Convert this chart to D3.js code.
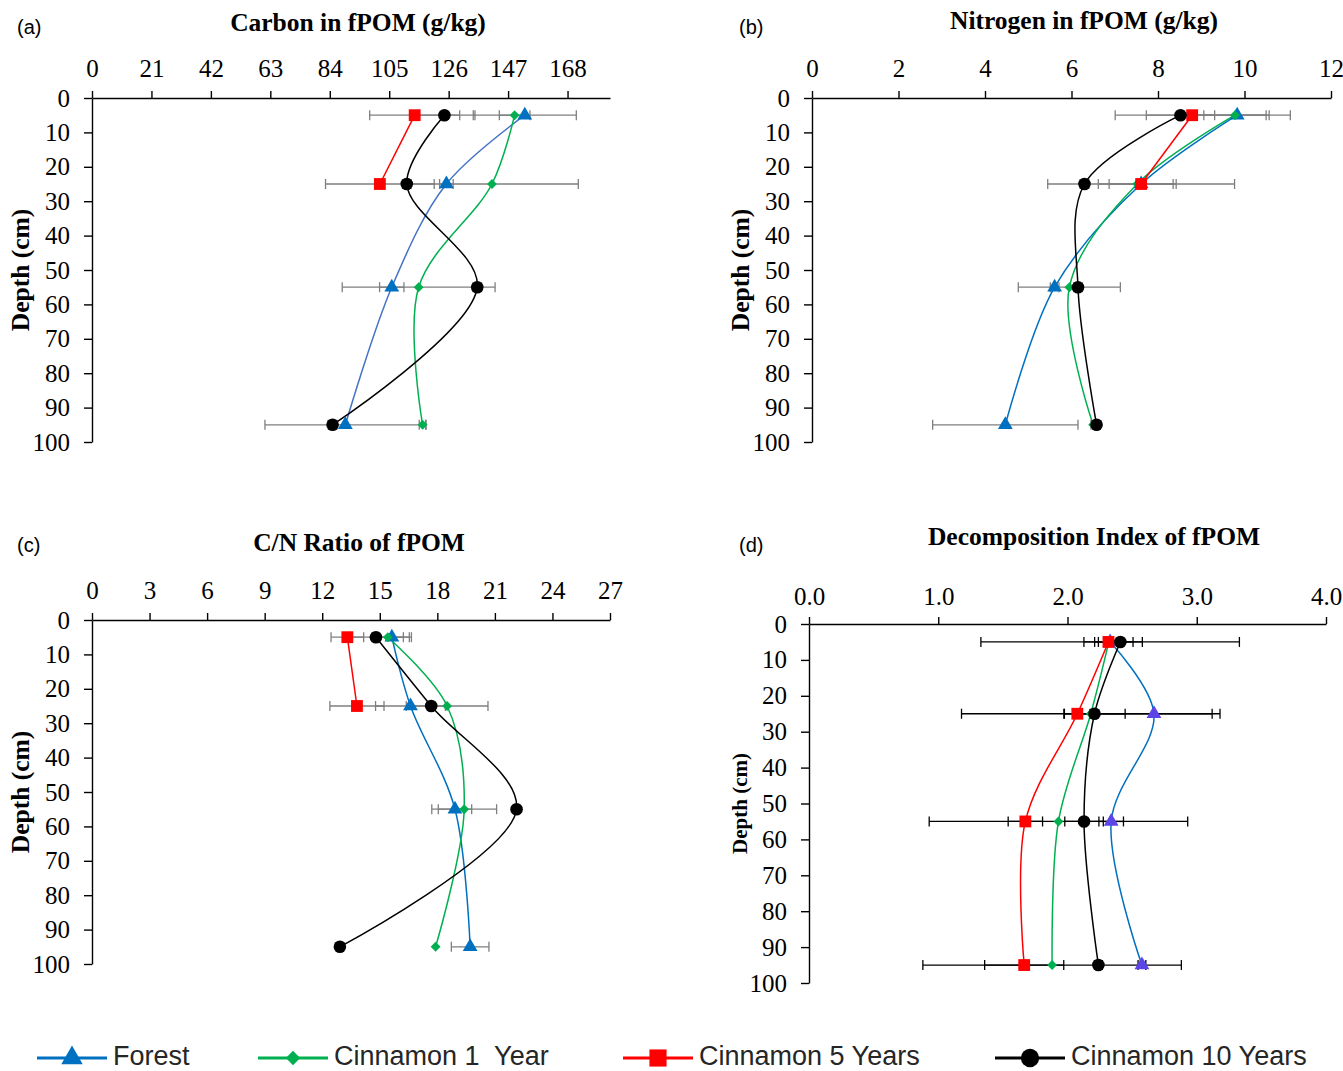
<!DOCTYPE html>
<html>
<head>
<meta charset="utf-8">
<script src="https://cdn.jsdelivr.net/npm/d3@7"></script>
<style>
  body { margin: 0; background: #fff; }
</style>
</head>
<body>
<div id="chart"></div>
<script>
// sampling depths (cm) and depth axis ticks
const depths = [5, 25, 55, 95];
const depthTicks = [0, 10, 20, 30, 40, 50, 60, 70, 80, 90, 100];
const seriesNames = ['Forest', 'Cinnamon 1  Year', 'Cinnamon 5 Years', 'Cinnamon 10 Years'];

// (a) carbon in fPOM (g/kg)
const carbonTicks = [0, 21, 42, 63, 84, 105, 126, 147, 168];
const carbonForest = [152.9, 125.2, 105.9, 89.5];
const carbonForestErr = [18.2, 2.4, 4.3, 28.4];
const carbonCin1 = [149.3, 141.3, 115.4, 116.8];
const carbonCin1Err = [5.4, 30.5, 27.0, 1.2];
const carbonCin5 = [114.0, 101.7, null, null];
const carbonCin5Err = [15.9, 19.2, null, null];
const carbonCin10 = [124.5, 111.2, 136.1, 85.0];
const carbonCin10Err = [10.8, 1.5, 1.5, 1.5];

// (b) nitrogen in fPOM (g/kg)
const nitroTicks = [0, 2, 4, 6, 8, 10, 12];
const nitroForest = [9.83, 7.61, 5.61, 4.47];
const nitroForestErr = [1.23, 0.74, 0.1, 1.68];
const nitroCin1 = [9.78, 7.52, 5.95, 6.50];
const nitroCin1Err = [0.72, 0.90, 1.18, 0.05];
const nitroCin5 = [8.79, 7.61, null, null];
const nitroCin5Err = [1.78, 2.16, null, null];
const nitroCin10 = [8.52, 6.30, 6.15, 6.58];
const nitroCin10Err = [0.79, 0.1, 0.1, 0.05];

// (c) C/N ratio of fPOM
const cnTicks = [0, 3, 6, 9, 12, 15, 18, 21, 24, 27];
const cnForest = [15.63, 16.60, 18.92, 19.71];
const cnForestErr = [1.02, 1.82, 0.87, 0.98];
const cnCin1 = [15.42, 18.51, 19.40, 17.91];
const cnCin1Err = [0.81, 2.13, 1.69, 0];
const cnCin5 = [13.31, 13.81, null, null];
const cnCin5Err = [0.85, 1.41, null, null];
const cnCin10 = [14.80, 17.68, 22.13, 12.92];
const cnCin10Err = [1.74, 0, 0, 0];

// (d) decomposition index of fPOM
const diTicks = [0, 1, 2, 3, 4];
const diForest = [2.33, 2.669, 2.338, 2.576];
const diForestErr = [1.0, 0.45, 0.095, 0.03];
const diCin1 = [2.32, 2.18, 1.93, 1.881];
const diCin1Err = [0.11, 1.0, 1.0, 1.0];
const diCin5 = [2.317, 2.076, 1.674, 1.665];
const diCin5Err = [0.19, 0.10, 0.133, 0.306];
const diCin10 = [2.409, 2.209, 2.128, 2.239];
const diCin10Err = [0.17, 0.237, 0.149, 0.03];

const W = 1343, H = 1071;
const serif = '"Liberation Serif", "Times New Roman", serif';
const sans = '"Liberation Sans", Arial, sans-serif';

const svg = d3.select('#chart')
  .append('svg')
  .attr('width', W)
  .attr('height', H);

const panels = [
  {
    tag: '(a)', title: 'Carbon in fPOM (g/kg)', ticks: carbonTicks, xMax: 183, fmt: d3.format('d'),
    left: 92, right: 610, top: 98, bottom: 442, titleX: 358, titleY: 31, tagX: 17, tagY: 34,
    yTitleX: 29, labelPad: 14, forestLine: '#4472C4', forestMarker: '#0070C0', errColor: '#7f7f7f',
    vals: [carbonForest, carbonCin1, carbonCin5, carbonCin10],
    errs: [carbonForestErr, carbonCin1Err, carbonCin5Err, carbonCin10Err]
  },
  {
    tag: '(b)', title: 'Nitrogen in fPOM (g/kg)', ticks: nitroTicks, xMax: 12, fmt: d3.format('d'),
    left: 812, right: 1331, top: 98, bottom: 442, titleX: 1084, titleY: 29, tagX: 739, tagY: 34,
    yTitleX: 749, labelPad: 14, forestLine: '#0070C0', forestMarker: '#0070C0', errColor: '#7f7f7f',
    vals: [nitroForest, nitroCin1, nitroCin5, nitroCin10],
    errs: [nitroForestErr, nitroCin1Err, nitroCin5Err, nitroCin10Err]
  },
  {
    tag: '(c)', title: 'C/N Ratio of fPOM', ticks: cnTicks, xMax: 27, fmt: d3.format('d'),
    left: 92, right: 610, top: 620, bottom: 964, titleX: 359, titleY: 551, tagX: 17, tagY: 552,
    yTitleX: 29, labelPad: 14, forestLine: '#0070C0', forestMarker: '#0070C0', errColor: '#7f7f7f',
    vals: [cnForest, cnCin1, cnCin5, cnCin10],
    errs: [cnForestErr, cnCin1Err, cnCin5Err, cnCin10Err]
  },
  {
    tag: '(d)', title: 'Decomposition Index of fPOM', ticks: diTicks, xMax: 4, fmt: d3.format('.1f'),
    left: 809, right: 1326, top: 624, bottom: 983, titleX: 1094, titleY: 545, tagX: 739, tagY: 552,
    yTitleX: 747, yTitleSize: 21, labelPad: 12, forestLine: '#0070C0', forestMarker: '#5b45e6', errColor: '#000000',
    vals: [diForest, diCin1, diCin5, diCin10],
    errs: [diForestErr, diCin1Err, diCin5Err, diCin10Err]
  }
];

const symbols = [d3.symbolTriangle, d3.symbolDiamond2, d3.symbolSquare, d3.symbolCircle];
const symbolSizes = [95, 62, 140, 125];
const seriesColors = ['#0070C0', '#00B050', '#FF0000', '#000000'];

function styleAxis(g, size) {
  g.select('.domain').attr('stroke', '#000').attr('stroke-width', 1.4);
  g.selectAll('.tick line').attr('stroke', '#000').attr('stroke-width', 1.4);
  g.selectAll('.tick text')
    .attr('fill', '#000')
    .attr('font-family', serif)
    .attr('font-size', size);
}

panels.forEach(p => {
  const g = svg.append('g');

  const x = d3.scaleLinear().domain([0, p.xMax]).range([p.left, p.right]);
  const y = d3.scaleLinear().domain([0, 100]).range([p.top, p.bottom]);

  const xAxis = g.append('g')
    .attr('transform', `translate(0,${p.top})`)
    .call(d3.axisTop(x).tickValues(p.ticks).tickFormat(p.fmt)
      .tickSize(7).tickSizeOuter(0).tickPadding(p.labelPad));
  styleAxis(xAxis, 25);

  const yAxis = g.append('g')
    .attr('transform', `translate(${p.left},0)`)
    .call(d3.axisLeft(y).tickValues(depthTicks)
      .tickSize(8).tickSizeOuter(0).tickPadding(14));
  styleAxis(yAxis, 25);

  // titles
  g.append('text')
    .attr('x', p.titleX)
    .attr('y', p.titleY)
    .attr('text-anchor', 'middle')
    .attr('font-family', serif)
    .attr('font-weight', 'bold')
    .attr('font-size', 25.5)
    .text(p.title);

  g.append('text')
    .attr('x', p.tagX)
    .attr('y', p.tagY)
    .attr('font-family', sans)
    .attr('font-size', 20)
    .text(p.tag);

  g.append('text')
    .attr('transform', `translate(${p.yTitleX},${(p.top + p.bottom) / 2}) rotate(-90)`)
    .attr('text-anchor', 'middle')
    .attr('font-family', serif)
    .attr('font-weight', 'bold')
    .attr('font-size', p.yTitleSize || 25.5)
    .text('Depth (cm)');

  const rows = p.vals.map((vals, s) => depths
    .map((d, i) => ({ depth: d, v: vals[i], e: p.errs[s][i] }))
    .filter(r => r.v != null));

  const line = d3.line()
    .x(d => x(d.v))
    .y(d => y(d.depth))
    .curve(d3.curveCatmullRom.alpha(0.5));

  // smoothed lines
  rows.forEach((r, s) => {
    g.append('path')
      .datum(r)
      .attr('fill', 'none')
      .attr('stroke', s === 0 ? p.forestLine : seriesColors[s])
      .attr('stroke-width', 1.5)
      .attr('d', line);
  });

  // error bars
  rows.forEach(r => {
    const eb = g.append('g').selectAll('g')
      .data(r.filter(d => d.e > 0))
      .join('g')
      .attr('stroke', p.errColor)
      .attr('stroke-width', 1.3);
    eb.append('line')
      .attr('x1', d => x(d.v - d.e)).attr('x2', d => x(d.v + d.e))
      .attr('y1', d => y(d.depth)).attr('y2', d => y(d.depth));
    eb.append('line')
      .attr('x1', d => x(d.v - d.e)).attr('x2', d => x(d.v - d.e))
      .attr('y1', d => y(d.depth) - 5).attr('y2', d => y(d.depth) + 5);
    eb.append('line')
      .attr('x1', d => x(d.v + d.e)).attr('x2', d => x(d.v + d.e))
      .attr('y1', d => y(d.depth) - 5).attr('y2', d => y(d.depth) + 5);
  });

  // markers
  rows.forEach((r, s) => {
    g.append('g').selectAll('path')
      .data(r)
      .join('path')
      .attr('transform', d => `translate(${x(d.v)},${y(d.depth)})`)
      .attr('d', d3.symbol(symbols[s], symbolSizes[s]))
      .attr('fill', s === 0 ? p.forestMarker : seriesColors[s]);
  });
});

// legend
const legendX = [37, 258, 623, 995];
const legendY = 1058;
const legend = svg.append('g');
seriesNames.forEach((name, i) => {
  const lg = legend.append('g').attr('transform', `translate(${legendX[i]},${legendY})`);
  lg.append('line')
    .attr('x1', 0).attr('x2', 70)
    .attr('stroke', seriesColors[i])
    .attr('stroke-width', 3);
  lg.append('path')
    .attr('transform', 'translate(35,0)')
    .attr('d', d3.symbol(symbols[i], symbolSizes[i] * 2.1))
    .attr('fill', seriesColors[i]);
  lg.append('text')
    .attr('x', 76)
    .attr('y', 7)
    .attr('font-family', sans)
    .attr('font-size', 27)
    .attr('fill', '#262626')
    .style('white-space', 'pre')
    .text(name);
});
</script>
</body>
</html>
